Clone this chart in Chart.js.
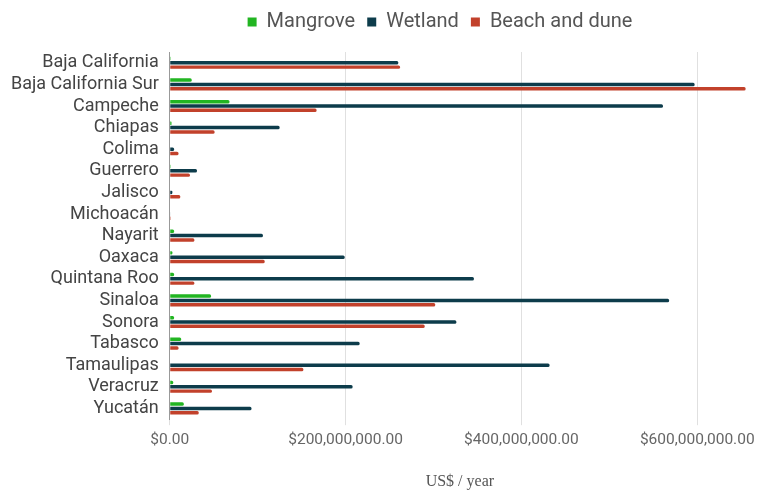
<!DOCTYPE html>
<html>
<head>
<meta charset="utf-8">
<script src="https://cdn.jsdelivr.net/npm/chart.js@4.4.1/dist/chart.umd.min.js"></script>
<style>
  html, body { margin: 0; padding: 0; background: #fff; }
  #wrap { width: 767px; height: 491px; }
</style>
</head>
<body>
<div id="wrap"><canvas id="c" width="767" height="491"></canvas></div>
<script>
const states = ["Baja California", "Baja California Sur", "Campeche", "Chiapas", "Colima", "Guerrero", "Jalisco", "Michoacán", "Nayarit", "Oaxaca", "Quintana Roo", "Sinaloa", "Sonora", "Tabasco", "Tamaulipas", "Veracruz", "Yucatán"];
// values in US$ / year
const mangrove = [1e6, 25e6, 68e6, 2e6, 0, 1e6, 0, 0, 5e6, 3e6, 5e6, 47e6, 5e6, 13e6, 0, 4e6, 16e6];
const wetland = [260e6, 597e6, 561e6, 125e6, 5e6, 31e6, 3e6, 0.5e6, 106e6, 199e6, 346e6, 568e6, 326e6, 216e6, 432e6, 208e6, 93e6];
const beach = [262e6, 655e6, 167e6, 51e6, 10e6, 23e6, 12e6, 1e6, 28e6, 108e6, 28e6, 302e6, 290e6, 10e6, 152e6, 48e6, 33e6];
const xTicks = [0, 200e6, 400e6, 600e6];
const seriesNames = ["Mangrove", "Wetland", "Beach and dune"];
const axisTitle = "US$ / year";

const legendShift = {
  id: 'legendShift',
  afterLayout(chart) {
    const l = chart.legend;
    if (l) { l.left += 65; l.right += 65; l.top -= 10; l.bottom -= 10; }
  }
};

new Chart(document.getElementById('c'), {
  type: 'bar',
  data: {
    labels: states,
    datasets: [
      { label: seriesNames[0], data: mangrove, backgroundColor: '#22b522', borderRadius: 1.5 },
      { label: seriesNames[1], data: wetland, backgroundColor: '#0d3c4b', borderRadius: 1.5 },
      { label: seriesNames[2], data: beach, backgroundColor: '#c2412b', borderRadius: 1.5 }
    ]
  },
  plugins: [legendShift],
  options: {
    indexAxis: 'y',
    responsive: false,
    animation: false,
    devicePixelRatio: 1,
    categoryPercentage: 0.6,
    barPercentage: 0.8,
    layout: { padding: { left: 0, right: 17, top: 10, bottom: 0 } },
    plugins: {
      legend: {
        position: 'top',
        labels: {
          boxWidth: 9, boxHeight: 9, padding: 12,
          color: '#555',
          font: { family: 'Roboto', size: 20 }
        }
      },
      tooltip: { enabled: false }
    },
    scales: {
      x: {
        min: 0, max: 660e6,
        afterBuildTicks(axis) { axis.ticks = xTicks.map(v => ({ value: v })); },
        grid: { color: '#e0e0e0', drawTicks: true, tickLength: 6 },
        border: { display: false },
        ticks: {
          color: '#666',
          font: { family: 'Roboto', size: 15.5 },
          padding: 6,
          maxRotation: 0,
          callback: v => '$' + Number(v).toLocaleString('en-US', { minimumFractionDigits: 2, maximumFractionDigits: 2 })
        },
        title: {
          display: true, text: axisTitle, color: '#555',
          font: { family: 'Liberation Serif', size: 16 },
          padding: { top: 16, bottom: 0 }
        }
      },
      y: {
        grid: { display: false, drawTicks: false },
        border: { display: true, color: '#999', width: 1 },
        ticks: {
          color: '#444',
          font: { family: 'Roboto', size: 18 },
          padding: 11,
          autoSkip: false
        }
      }
    }
  }
});
</script>
</body>
</html>
